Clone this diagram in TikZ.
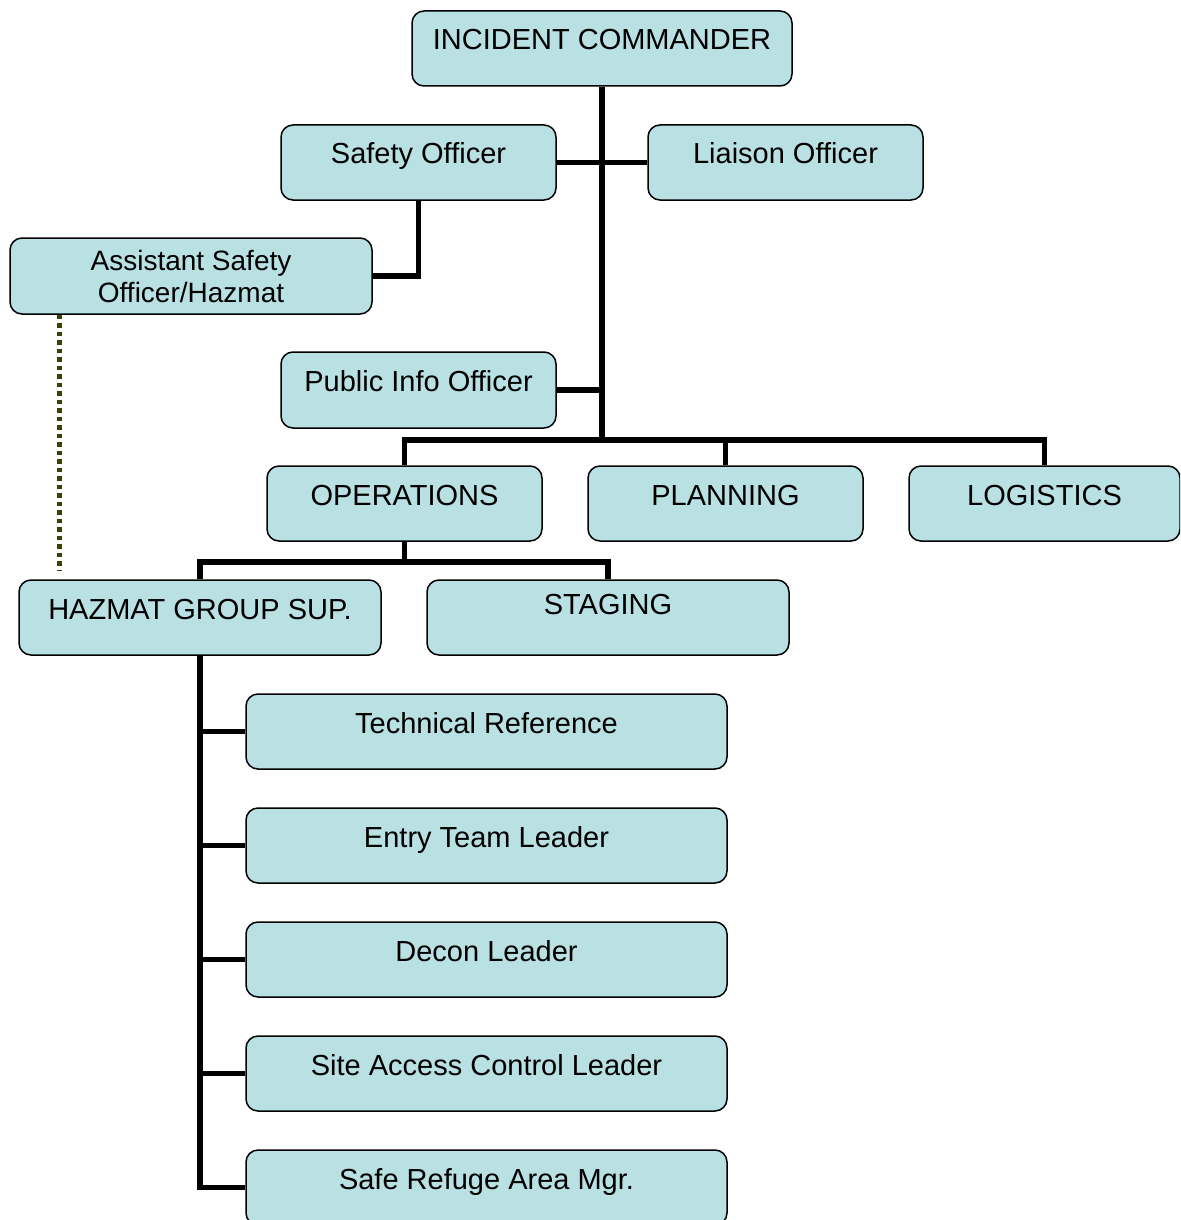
\documentclass[tikz,border=0pt]{standalone}
\usepackage{fontspec}
\setmainfont{Liberation Sans}
\definecolor{boxfill}{RGB}{185,224,227}
\definecolor{dotcol}{RGB}{64,64,0}
\tikzset{
  orgbox/.style={draw=black, line width=1.5pt, rounded corners=12pt, fill=boxfill,
    inner sep=0pt, minimum height=75pt, text height=21pt, text depth=18pt,
    font=\fontsize{29}{32}\selectfont},
  twoline/.style={draw=black, line width=1.5pt, rounded corners=12pt, fill=boxfill,
    inner sep=0pt, minimum height=76pt, align=center,
    font=\fontsize{28}{32}\selectfont},
  link/.style={line width=5.5pt, black},
  dotlink/.style={line width=5pt, dotcol, dash pattern=on 4.5pt off 4pt}
}
\begin{document}
\begin{tikzpicture}[x=1pt,y=-1pt]
\clip (0,0) rectangle (1180,1220);
\fill[white] (0,0) rectangle (1180,1220);
\coordinate (bar) at (602,440);
\coordinate (dotEnd) at (59,570);
% nodes
\node[orgbox, minimum width=380pt] (IC) at (602,48.5) {INCIDENT COMMANDER};
\node[orgbox, minimum width=275pt] (SO) at (418.5,162.5) {Safety Officer};
\node[orgbox, minimum width=275pt] (LO) at (785.5,162.5) {Liaison Officer};
\node[twoline, minimum width=362pt] (ASO) at (191,276) {Assistant Safety\\Officer/Hazmat};
\node[orgbox, minimum width=275pt, minimum height=76pt] (PIO) at (418.5,390) {Public Info Officer};
\node[orgbox, minimum width=275pt] (OPS) at (404.5,503.5) {OPERATIONS};
\node[orgbox, minimum width=275pt] (PLAN) at (725.5,503.5) {PLANNING};
\node[orgbox, minimum width=271pt] (LOG) at (1044.5,503.5) {LOGISTICS};
\node[orgbox, minimum width=362pt] (HZ) at (200,617.5) {HAZMAT GROUP SUP.};
\node[orgbox, minimum width=362pt, text depth=28pt] (STG) at (608,617.5) {STAGING};
\node[orgbox, minimum width=481pt] (TR) at (486.5,731.5) {Technical Reference};
\node[orgbox, minimum width=481pt] (ETL) at (486.5,845.5) {Entry Team Leader};
\node[orgbox, minimum width=481pt] (DL) at (486.5,959.5) {Decon Leader};
\node[orgbox, minimum width=481pt] (SAC) at (486.5,1073.5) {Site Access Control Leader};
\node[orgbox, minimum width=481pt] (SRA) at (486.5,1187.5) {Safe Refuge Area Mgr.};
% links
\draw[link] (IC.south) -- (bar);
\draw[link] (SO.east) -- (LO.west);
\draw[link] (SO.south) |- (ASO.east);
\draw[link] (PIO.east) -- (PIO.east -| bar);
\draw[link] (OPS.north) |- (bar) -| (LOG.north);
\draw[link] (PLAN.north) -- (PLAN.north |- bar);
\draw[link] (OPS.south) -- ++(0,20) -| (HZ.north);
\draw[link] (OPS.south) ++(0,20) -| (STG.north);
\draw[link] (HZ.south) |- (TR.west);
\draw[link] (HZ.south) |- (ETL.west);
\draw[link] (HZ.south) |- (DL.west);
\draw[link] (HZ.south) |- (SAC.west);
\draw[link] (HZ.south) |- (SRA.west);
\draw[dotlink] (dotEnd |- ASO.south) -- (dotEnd);
\end{tikzpicture}
\end{document}
